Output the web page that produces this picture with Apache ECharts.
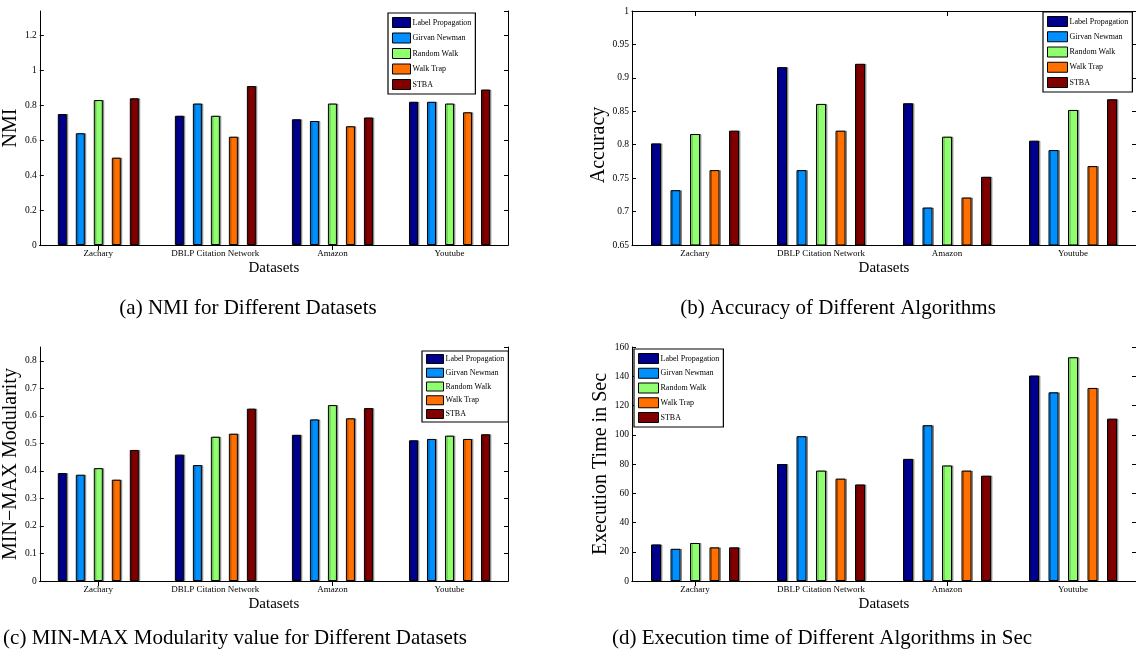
<!DOCTYPE html>
<html>
<head>
<meta charset="utf-8">
<script src="https://cdn.jsdelivr.net/npm/echarts@6/dist/echarts.min.js"></script>
<style>
html,body{margin:0;padding:0;background:#fff;}
#c{width:1136px;height:653px;}
</style>
</head>
<body>
<div id="c"></div>
<script>
const categories = ['Zachary', 'DBLP Citation Network', 'Amazon', 'Youtube'];
const algorithms = ['Label Propagation', 'Girvan Newman', 'Random Walk', 'Walk Trap', 'STBA'];
const colors = ['#00008F', '#008FFF', '#8FFF70', '#FF7000', '#800000'];

// (a) NMI
const nmiLabelPropagation = [0.75, 0.74, 0.72, 0.82];
const nmiGirvanNewman     = [0.64, 0.81, 0.71, 0.82];
const nmiRandomWalk       = [0.83, 0.74, 0.81, 0.81];
const nmiWalkTrap         = [0.50, 0.62, 0.68, 0.76];
const nmiSTBA             = [0.84, 0.91, 0.73, 0.89];

// (b) Accuracy
const accLabelPropagation = [0.802, 0.916, 0.862, 0.806];
const accGirvanNewman     = [0.732, 0.762, 0.706, 0.792];
const accRandomWalk       = [0.816, 0.861, 0.812, 0.852];
const accWalkTrap         = [0.762, 0.821, 0.721, 0.768];
const accSTBA             = [0.821, 0.921, 0.752, 0.868];

// (c) MIN-MAX Modularity
const modLabelPropagation = [0.392, 0.459, 0.531, 0.511];
const modGirvanNewman     = [0.386, 0.421, 0.587, 0.516];
const modRandomWalk       = [0.410, 0.524, 0.639, 0.528];
const modWalkTrap         = [0.368, 0.535, 0.591, 0.516];
const modSTBA             = [0.476, 0.626, 0.628, 0.533];

// (d) Execution time (sec)
const timeLabelPropagation = [25, 80, 83.5, 140.5];
const timeGirvanNewman     = [22, 99, 106.5, 129];
const timeRandomWalk       = [26, 75.5, 79, 153];
const timeWalkTrap         = [23, 70, 75.5, 132];
const timeSTBA             = [23, 66, 72, 111];

// y-axis tick settings
const yMinA = 0,    yMaxA = 1.34, yStepA = 0.2;
const yMinB = 0.65, yMaxB = 1,    yStepB = 0.05;
const yMinC = 0,    yMaxC = 0.85, yStepC = 0.1;
const yMinD = 0,    yMaxD = 160,  yStepD = 20;

const FONT = 'Liberation Serif';

const panels = [
  {grid:{left:35, top:11, width:473, height:234}, data:[nmiLabelPropagation,nmiGirvanNewman,nmiRandomWalk,nmiWalkTrap,nmiSTBA],
   y:[yMinA,yMaxA,yStepA], yname:'NMI', ynameSize:20, ynameGap:15, ynamePad:[0,0,0,0], showMax:false, barW:9, barGap:'100%',
   legend:{left:388, top:13, w:18, h:10, gap:4.5, pad:4}},
  {grid:{left:632, top:11, width:508, height:234}, data:[accLabelPropagation,accGirvanNewman,accRandomWalk,accWalkTrap,accSTBA],
   y:[yMinB,yMaxB,yStepB], yname:'Accuracy', ynameSize:20, ynameGap:16, ynamePad:[0,34,0,0], showMax:true, barW:10, barGap:'95%',
   legend:{left:1043, top:12, w:20, h:10, gap:4.25, pad:4}},
  {grid:{left:35, top:347, width:473, height:234}, data:[modLabelPropagation,modGirvanNewman,modRandomWalk,modWalkTrap,modSTBA],
   y:[yMinC,yMaxC,yStepC], yname:'MIN\u2212MAX Modularity', ynameSize:20, ynameGap:15, ynamePad:[0,0,0,0], showMax:false, barW:9, barGap:'100%',
   legend:{left:422, top:351, w:17, h:9, gap:3.75, pad:3}},
  {grid:{left:632, top:347, width:508, height:234}, data:[timeLabelPropagation,timeGirvanNewman,timeRandomWalk,timeWalkTrap,timeSTBA],
   y:[yMinD,yMaxD,yStepD], yname:'Execution Time in Sec', ynameSize:20, ynameGap:17, ynamePad:[0,0,0,0], showMax:true, barW:10, barGap:'95%',
   legend:{left:634, top:349, w:20, h:10, gap:3.75, pad:4}}
];

const captions = [
  {text:'(a) NMI for Different Datasets', x:248, y:298},
  {text:'(b) Accuracy of Different Algorithms', x:838, y:298},
  {text:'(c) MIN-MAX Modularity value for Different Datasets', x:235, y:628},
  {text:'(d) Execution time of Different Algorithms in Sec', x:822, y:628}
];

const axisLineStyle = {color:'#000', width:1};
const option = {
  animation:false,
  backgroundColor:'#fff',
  textStyle:{fontFamily:FONT},
  title: captions.map(c => ({text:c.text, left:c.x, top:c.y, textAlign:'center', padding:0,
    textStyle:{fontFamily:FONT, fontSize:21, fontWeight:'normal', color:'#000'}})),
  grid: panels.map(p => Object.assign({containLabel:false}, p.grid)),
  xAxis: [], yAxis: [], series: [], legend: []
};

panels.forEach((p, i) => {
  const xb = option.xAxis.length;
  option.xAxis.push({
    type:'category', gridIndex:i, data:categories, position:'bottom',
    axisLine:{show:true, lineStyle:axisLineStyle},
    axisTick:{show:true, inside:true, alignWithLabel:true, length:5, lineStyle:{color:'#000'}},
    axisLabel:{fontFamily:FONT, fontSize:9, color:'#000', margin:4, interval:0},
    name:'Datasets', nameLocation:'middle', nameGap:16,
    nameTextStyle:{fontFamily:FONT, fontSize:15, color:'#000'}
  });
  option.xAxis.push({
    type:'category', gridIndex:i, data:categories, position:'top',
    axisLine:{show:true, lineStyle:axisLineStyle},
    axisTick:{show:true, inside:true, alignWithLabel:true, length:5, lineStyle:{color:'#000'}},
    axisLabel:{show:false}
  });
  const yb = option.yAxis.length;
  option.yAxis.push({
    type:'value', gridIndex:i, min:p.y[0], max:p.y[1], interval:p.y[2], position:'left',
    splitLine:{show:false},
    axisLine:{show:true, lineStyle:axisLineStyle},
    axisTick:{show:true, inside:true, length:4, lineStyle:{color:'#000'}},
    axisLabel:{fontFamily:FONT, fontSize:9.5, color:'#000', margin:3, showMaxLabel:p.showMax},
    name:p.yname, nameLocation:'middle', nameGap:p.ynameGap,
    nameTextStyle:{fontFamily:FONT, fontSize:p.ynameSize, color:'#000', padding:p.ynamePad}
  });
  option.yAxis.push({
    type:'value', gridIndex:i, min:p.y[0], max:p.y[1], interval:p.y[2], position:'right',
    splitLine:{show:false},
    axisLine:{show:true, lineStyle:axisLineStyle},
    axisTick:{show:true, inside:true, length:4, lineStyle:{color:'#000'}},
    axisLabel:{show:false}
  });
  algorithms.forEach((name, k) => {
    option.series.push({
      type:'bar', name:name, xAxisIndex:xb, yAxisIndex:yb,
      data:p.data[k], barWidth:p.barW, barGap:p.barGap,
      itemStyle:{color:colors[k], borderColor:'#000', borderWidth:1,
        shadowColor:'rgba(0,0,0,0.35)', shadowOffsetX:1.5, shadowOffsetY:0, shadowBlur:0}
    });
  });
  const L = p.legend;
  option.legend.push({
    data:algorithms.map(n => ({name:n})), orient:'vertical',
    left:L.left, top:L.top,
    itemWidth:L.w, itemHeight:L.h, itemGap:L.gap,
    padding:[L.pad,4,L.pad,4], backgroundColor:'#fff', borderColor:'#000', borderWidth:1.2,
    icon:'rect', selectedMode:false,
    textStyle:{fontFamily:FONT, fontSize:8, lineHeight:L.h, color:'#000', padding:[0,0,0,-3]},
    itemStyle:{borderColor:'#000', borderWidth:1}
  });
});

const chart = echarts.init(document.getElementById('c'), null, {renderer:'canvas'});
chart.setOption(option);
</script>
</body>
</html>
